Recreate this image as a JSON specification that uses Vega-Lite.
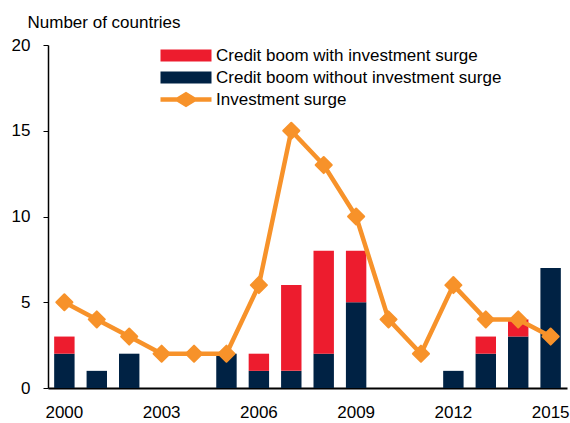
{
  "$schema": "https://vega.github.io/schema/vega-lite/v6.json",
  "width": 519,
  "height": 343,
  "autosize": {"type": "none"},
  "padding": {"left": 48, "top": 45, "right": 3, "bottom": 35},
  "background": "white",
  "config": {
    "view": {"stroke": null},
    "font": "Liberation Sans",
    "axis": {"labelFont": "Liberation Sans", "titleFont": "Liberation Sans", "labelFontSize": 17, "labelColor": "black", "titleColor": "black", "grid": false, "domainColor": "black", "tickColor": "black"},
    "legend": {"labelFont": "Liberation Sans", "labelFontSize": 17, "labelColor": "black", "labelLimit": 0}
  },
  "datasets": {
    "bars": [
      {"year": 2000, "series": "Credit boom without investment surge", "value": 2},
      {"year": 2000, "series": "Credit boom with investment surge", "value": 1},
      {"year": 2001, "series": "Credit boom without investment surge", "value": 1},
      {"year": 2002, "series": "Credit boom without investment surge", "value": 2},
      {"year": 2005, "series": "Credit boom without investment surge", "value": 2},
      {"year": 2006, "series": "Credit boom without investment surge", "value": 1},
      {"year": 2006, "series": "Credit boom with investment surge", "value": 1},
      {"year": 2007, "series": "Credit boom without investment surge", "value": 1},
      {"year": 2007, "series": "Credit boom with investment surge", "value": 5},
      {"year": 2008, "series": "Credit boom without investment surge", "value": 2},
      {"year": 2008, "series": "Credit boom with investment surge", "value": 6},
      {"year": 2009, "series": "Credit boom without investment surge", "value": 5},
      {"year": 2009, "series": "Credit boom with investment surge", "value": 3},
      {"year": 2012, "series": "Credit boom without investment surge", "value": 1},
      {"year": 2013, "series": "Credit boom without investment surge", "value": 2},
      {"year": 2013, "series": "Credit boom with investment surge", "value": 1},
      {"year": 2014, "series": "Credit boom without investment surge", "value": 3},
      {"year": 2014, "series": "Credit boom with investment surge", "value": 1},
      {"year": 2015, "series": "Credit boom without investment surge", "value": 7}
    ],
    "line": [
      {"year": 2000, "series": "Investment surge", "value": 5},
      {"year": 2001, "series": "Investment surge", "value": 4},
      {"year": 2002, "series": "Investment surge", "value": 3},
      {"year": 2003, "series": "Investment surge", "value": 2},
      {"year": 2004, "series": "Investment surge", "value": 2},
      {"year": 2005, "series": "Investment surge", "value": 2},
      {"year": 2006, "series": "Investment surge", "value": 6},
      {"year": 2007, "series": "Investment surge", "value": 15},
      {"year": 2008, "series": "Investment surge", "value": 13},
      {"year": 2009, "series": "Investment surge", "value": 10},
      {"year": 2010, "series": "Investment surge", "value": 4},
      {"year": 2011, "series": "Investment surge", "value": 2},
      {"year": 2012, "series": "Investment surge", "value": 6},
      {"year": 2013, "series": "Investment surge", "value": 4},
      {"year": 2014, "series": "Investment surge", "value": 4},
      {"year": 2015, "series": "Investment surge", "value": 3}
    ]
  },
  "encoding": {
    "x": {
      "field": "year", "type": "ordinal",
      "scale": {"domain": [2000,2001,2002,2003,2004,2005,2006,2007,2008,2009,2010,2011,2012,2013,2014,2015], "paddingInner": 0.37, "paddingOuter": 0.19},
      "axis": {"title": null, "values": [2000, 2003, 2006, 2009, 2012, 2015], "labelAngle": 0, "ticks": false, "labelPadding": 16, "domainWidth": 2}
    },
    "y": {
      "field": "value", "type": "quantitative",
      "scale": {"domain": [0, 20], "nice": false},
      "axis": {"values": [0, 5, 10, 15, 20], "title": "Number of countries", "titleAngle": 0, "titleAlign": "left", "titleBaseline": "alphabetic", "titleX": -21, "titleY": -18, "titleFontSize": 17, "titleFontWeight": "normal", "tickSize": 5, "labelPadding": 13, "domainWidth": 1.5}
    }
  },
  "layer": [
    {
      "data": {"name": "bars"},
      "mark": {"type": "bar"},
      "encoding": {
        "color": {
          "field": "series", "type": "nominal",
          "scale": {"domain": ["Credit boom with investment surge", "Credit boom without investment surge", "Investment surge"], "range": ["#ED1C2E", "#002244", "#F7922A"]},
          "legend": {
            "title": null, "orient": "none", "legendX": 110, "legendY": 2,
            "symbolSize": 144, "labelOffset": 41, "rowPadding": 4,
            "encode": {
              "symbols": {
                "update": {
                  "shape": {"signal": "datum.value === 'Investment surge' ? 'M-1,-0.375H1.75L3.25,-1.3L4.75,-0.375H7.5V0.375H4.75L3.25,1.3L1.75,0.375H-1Z' : 'M-1,-1H7.5V1H-1Z'"},
                  "fill": {"signal": "scale('color', datum.value)"},
                  "stroke": {"value": "transparent"},
                  "strokeWidth": {"value": 0},
                  "opacity": {"value": 1},
                  "fillOpacity": {"value": 1}
                }
              }
            }
          }
        },
        "order": {"field": "series", "sort": "descending"}
      }
    },
    {
      "data": {"name": "line"},
      "mark": {"type": "line", "strokeWidth": 4.5, "strokeJoin": "round"},
      "encoding": {
        "color": {"field": "series", "type": "nominal"}
      }
    },
    {
      "data": {"name": "line"},
      "mark": {"type": "point", "shape": "diamond", "filled": true, "size": 260, "color": "#F7922A", "opacity": 1, "stroke": "#F7922A", "strokeWidth": 2, "strokeJoin": "round"},
      "encoding": {}
    }
  ]
}
